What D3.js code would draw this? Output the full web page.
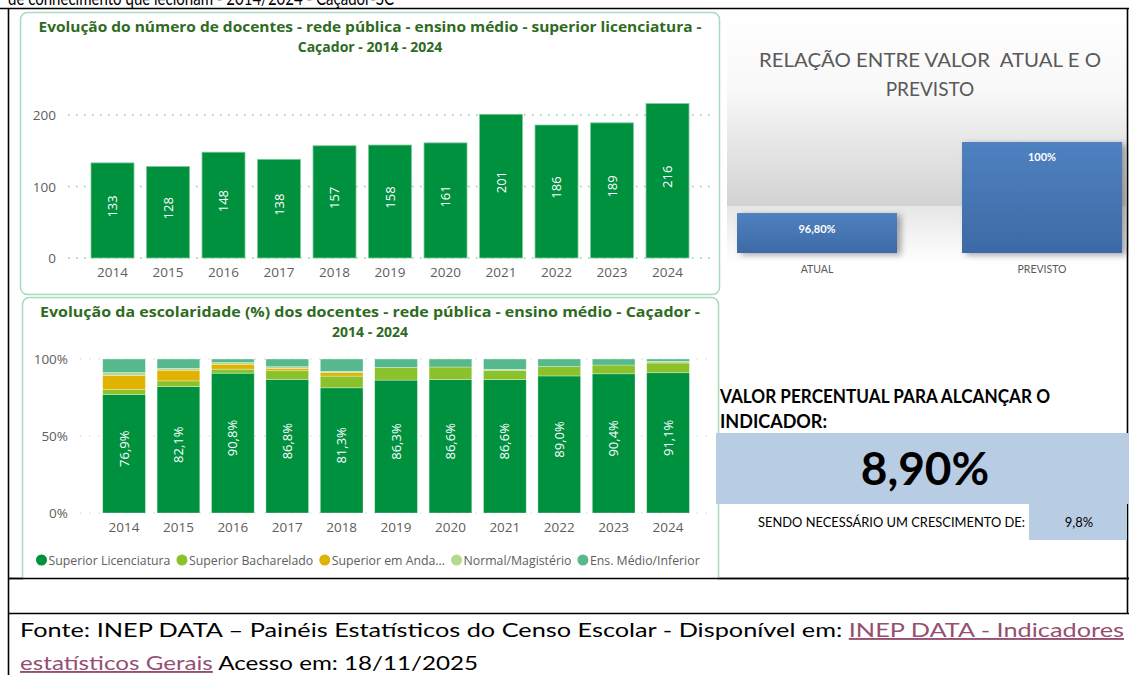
<!DOCTYPE html>
<html lang="pt-BR">
<head>
<meta charset="utf-8">
<script src="https://cdn.jsdelivr.net/npm/d3@7/dist/d3.min.js"></script>
<style>
  html, body { margin: 0; padding: 0; background: #fff; }
  svg { display: block; }
  .pre { white-space: pre; }
</style>
</head>
<body>
<div id="chart"></div>
<script>
// ---- Dados ----
const anos = ["2014","2015","2016","2017","2018","2019","2020","2021","2022","2023","2024"];
const docentes = [133,128,148,138,157,158,161,201,186,189,216];

// Escolaridade (%) por ano
const supLicenciatura = [76.9,82.1,90.8,86.8,81.3,86.3,86.6,86.6,89.0,90.4,91.1];
const supBacharelado  = [3.2,3.7,2.6,5.6,7.6,8.3,8.2,6.1,6.1,5.7,6.3];
const supAndamento    = [9.3,6.9,3.2,1.5,2.2,0,0,0,0,0,0];
const normalMagist    = [1.8,1.2,1.1,1.1,0.9,0,0,0.6,0,0,1.1];
const ensMedioInf     = [8.8,6.1,2.3,5.0,8.0,5.4,5.2,6.7,4.9,3.9,1.5];

const seriesNomes = ["Superior Licenciatura","Superior Bacharelado","Superior em Anda...","Normal/Magistério","Ens. Médio/Inferior"];
const seriesCores = ["#00913f","#8bc22b","#dfb300","#b6d88e","#55b98d"];

const ticksDocentes = [0,100,200];
const ticksPct = [0,50,100];

// Relação atual x previsto
const categoriasRel = ["ATUAL","PREVISTO"];
const valoresRel = [96.8,100];
const rotulosRel = ["96,80%","100%"];

const valorIndicador = "8,90%";
const crescimento = "9,8%";

// ---- Estrutura ----
const W = 1129, H = 675;
const svg = d3.select("#chart").append("svg").attr("width", W).attr("height", H);
svg.append("rect").attr("width", W).attr("height", H).attr("fill", "#fff");
const defs = svg.append("defs");

const fPBI = "'Open Sans', 'Noto Sans', sans-serif";
const fDoc = "Lato, 'Open Sans', sans-serif";

function fit(sel, width) {
  const n = sel.node();
  const w = n.getComputedTextLength();
  if (Math.abs(w - width) > 1) sel.attr("textLength", width).attr("lengthAdjust", "spacingAndGlyphs");
  return sel;
}

// Linha do texto anterior (cortada pela borda superior)
fit(svg.append("text").attr("x", 8).attr("y", 5).attr("font-family", fDoc).attr("font-size", 19)
  .attr("fill", "#000").text("de conhecimento que lecionam - 2014/2024 - Caçador-SC"), 386);

// Bordas da tabela
const lines = [
  [0, 8.5, W, 8.5], [8.5, 8.5, 8.5, H], [1127.5, 8.5, 1127.5, 614],
  [8.5, 578.5, W, 578.5], [8.5, 613.5, W, 613.5]
];
svg.selectAll("line.tab").data(lines).join("line").attr("class", "tab")
  .attr("x1", d => d[0]).attr("y1", d => d[1]).attr("x2", d => d[2]).attr("y2", d => d[3])
  .attr("stroke", "#000").attr("stroke-width", 1.6);

// Painéis
svg.append("rect").attr("x", 20.5).attr("y", 12.5).attr("width", 699).attr("height", 282)
  .attr("rx", 7).attr("fill", "#fff").attr("stroke", "#a8dbbd").attr("stroke-width", 1.5);
svg.append("rect").attr("x", 22.5).attr("y", 297.5).attr("width", 696).attr("height", 290)
  .attr("rx", 7).attr("fill", "#fff").attr("stroke", "#a8dbbd").attr("stroke-width", 1.5);
// linha da tabela por cima do painel inferior
svg.append("line").attr("x1", 8.5).attr("x2", W).attr("y1", 578.5).attr("y2", 578.5)
  .attr("stroke", "#000").attr("stroke-width", 1.6);
svg.append("rect").attr("x", 10).attr("y", 580).attr("width", 1116).attr("height", 32).attr("fill", "#fff");

// ---- Gráfico 1: número de docentes ----
const tituloCor = "#2e6b22";
function titulo(l1, l2, y, w1) {
  fit(svg.append("text").attr("x", 370).attr("y", y).attr("text-anchor", "middle")
    .attr("font-family", fPBI).attr("font-weight", 700).attr("font-size", 14)
    .attr("fill", tituloCor).text(l1), w1);
  svg.append("text").attr("x", 370).attr("y", y + 20).attr("text-anchor", "middle")
    .attr("font-family", fPBI).attr("font-weight", 700).attr("font-size", 14)
    .attr("fill", tituloCor).text(l2);
}
titulo("Evolução do número de docentes - rede pública - ensino médio - superior licenciatura -",
       "Caçador - 2014 - 2024", 32, 663);

const x1 = d3.scaleBand().domain(anos).range([84.76, 695.26]).paddingInner(0.225).paddingOuter(0.1125);
const y1 = d3.scaleLinear().domain([0, 200]).range([258, 115]);

const g1 = svg.append("g");
g1.selectAll("line.grid").data(ticksDocentes).join("line").attr("class", "grid")
  .attr("x1", 68).attr("x2", 712).attr("y1", d => y1(d)).attr("y2", d => y1(d))
  .attr("stroke", "#8ccfa5").attr("stroke-width", 1.5).attr("stroke-dasharray", "1.5,6.5");
g1.selectAll("text.yt").data(ticksDocentes).join("text").attr("class", "yt")
  .attr("x", 56).attr("y", d => y1(d) + 5).attr("text-anchor", "end")
  .attr("font-family", fPBI).attr("font-size", 13.5).attr("fill", "#605e5c").text(d => d);
g1.selectAll("rect.bar").data(docentes).join("rect").attr("class", "bar")
  .attr("x", (d, i) => x1(anos[i])).attr("width", x1.bandwidth())
  .attr("y", d => y1(d)).attr("height", d => y1(0) - y1(d))
  .attr("fill", "#00913f").attr("stroke", "#7fcb9c").attr("stroke-width", 0.8);
g1.selectAll("text.lbl").data(docentes).join("text").attr("class", "lbl")
  .attr("transform", (d, i) => `translate(${x1(anos[i]) + x1.bandwidth() / 2 + 4.5},${(y1(d) + y1(0)) / 2 - 4}) rotate(-90)`)
  .attr("text-anchor", "middle").attr("font-family", fPBI).attr("font-size", 13)
  .attr("fill", "#fff").text(d => d);
g1.selectAll("text.xt").data(anos).join("text").attr("class", "xt")
  .attr("x", d => x1(d) + x1.bandwidth() / 2).attr("y", 277).attr("text-anchor", "middle")
  .attr("font-family", fPBI).attr("font-size", 13.5).attr("fill", "#605e5c").text(d => d);

// ---- Gráfico 2: escolaridade (%) ----
titulo("Evolução da escolaridade (%) dos docentes - rede pública - ensino médio - Caçador -",
       "2014 - 2024", 317, 660);

const x2 = d3.scaleBand().domain(anos).range([96.85, 695.25]).paddingInner(0.215).paddingOuter(0.1075);
const y2 = d3.scaleLinear().domain([0, 100]).range([513, 359]);

const linhas = anos.map((a, i) => ({
  ano: a, s0: supLicenciatura[i], s1: supBacharelado[i], s2: supAndamento[i], s3: normalMagist[i], s4: ensMedioInf[i]
}));
const chaves = ["s0","s1","s2","s3","s4"];
const pilha = d3.stack().keys(chaves)(linhas);

const g2 = svg.append("g");
g2.selectAll("line.grid").data(ticksPct).join("line").attr("class", "grid")
  .attr("x1", 80).attr("x2", 710).attr("y1", d => y2(d)).attr("y2", d => y2(d))
  .attr("stroke", "#c9c9c9").attr("stroke-width", 1.2).attr("stroke-dasharray", "1.2,8");
g2.selectAll("text.yt").data(ticksPct).join("text").attr("class", "yt")
  .attr("x", 68).attr("y", d => y2(d) + 5).attr("text-anchor", "end")
  .attr("font-family", fPBI).attr("font-size", 13.5).attr("fill", "#605e5c").text(d => d + "%");
g2.selectAll("g.serie").data(pilha).join("g").attr("class", "serie")
  .attr("fill", (d, i) => seriesCores[i])
  .selectAll("rect").data(d => d.filter(p => p[1] - p[0] > 0)).join("rect")
  .attr("x", d => x2(d.data.ano)).attr("width", x2.bandwidth())
  .attr("y", d => y2(d[1])).attr("height", d => y2(d[0]) - y2(d[1]))
  .attr("stroke", "rgba(255,255,255,0.45)").attr("stroke-width", 0.7);
g2.selectAll("text.lbl").data(pilha[0]).join("text").attr("class", "lbl")
  .attr("transform", d => `translate(${x2(d.data.ano) + x2.bandwidth() / 2 + 4.5},${(y2(d[1]) + y2(d[0])) / 2 - 5}) rotate(-90)`)
  .attr("text-anchor", "middle").attr("font-family", fPBI).attr("font-size", 13)
  .attr("fill", "#fff").text(d => d3.format(".1f")(d.data.s0).replace(".", ",") + "%");
g2.selectAll("text.xt").data(anos).join("text").attr("class", "xt")
  .attr("x", d => x2(d) + x2.bandwidth() / 2).attr("y", 532).attr("text-anchor", "middle")
  .attr("font-family", fPBI).attr("font-size", 13.5).attr("fill", "#605e5c").text(d => d);

// Legenda
const leg = svg.append("g");
let cx = 36;
seriesNomes.forEach((nome, i) => {
  leg.append("circle").attr("cx", cx + 5.5).attr("cy", 560).attr("r", 5.5).attr("fill", seriesCores[i]);
  const t = leg.append("text").attr("x", cx + 12.5).attr("y", 564.5)
    .attr("font-family", fPBI).attr("font-size", 12.3).attr("fill", "#605e5c").text(nome);
  cx += 12.5 + t.node().getComputedTextLength() + 6;
});

// ---- Relação entre valor atual e previsto ----
const parede = defs.append("linearGradient").attr("id", "parede").attr("x1", 0).attr("y1", 0).attr("x2", 0).attr("y2", 1);
parede.append("stop").attr("offset", 0).attr("stop-color", "#ffffff");
parede.append("stop").attr("offset", 0.4).attr("stop-color", "#f8f8f8");
parede.append("stop").attr("offset", 1).attr("stop-color", "#d2d2d2");
const piso = defs.append("linearGradient").attr("id", "piso").attr("x1", 0).attr("y1", 0).attr("x2", 0).attr("y2", 1);
piso.append("stop").attr("offset", 0).attr("stop-color", "#e6e6e6");
piso.append("stop").attr("offset", 1).attr("stop-color", "#ffffff");
const barraAzul = defs.append("linearGradient").attr("id", "barraAzul").attr("x1", 0).attr("y1", 0).attr("x2", 0).attr("y2", 1);
barraAzul.append("stop").attr("offset", 0).attr("stop-color", "#4f81c0");
barraAzul.append("stop").attr("offset", 1).attr("stop-color", "#3d6aa6");
const sombra = defs.append("filter").attr("id", "sombra").attr("x", "-10%").attr("y", "-10%").attr("width", "130%").attr("height", "130%");
sombra.append("feDropShadow").attr("dx", 4).attr("dy", 2).attr("stdDeviation", 3)
  .attr("flood-color", "#000").attr("flood-opacity", 0.35);

svg.append("rect").attr("x", 727).attr("y", 14).attr("width", 399).attr("height", 192).attr("fill", "url(#parede)");
svg.append("rect").attr("x", 727).attr("y", 206).attr("width", 399).attr("height", 58).attr("fill", "url(#piso)");

const tr = svg.append("text").attr("text-anchor", "middle").attr("font-family", fDoc)
  .attr("font-size", 19).attr("fill", "#595959");
fit(tr.append("tspan").attr("class", "pre").attr("x", 930).attr("y", 67).text("RELAÇÃO ENTRE VALOR  ATUAL E O"), 342);
svg.append("text").attr("x", 930).attr("y", 96).attr("text-anchor", "middle").attr("font-family", fDoc)
  .attr("font-size", 19).attr("fill", "#595959").text("PREVISTO");

const x3 = d3.scaleBand().domain(categoriasRel).range([704.5, 1154.5]).paddingInner(0.289).paddingOuter(0.1445);
const y3 = d3.scaleLinear().domain([95, 100]).range([253, 142]);
svg.selectAll("rect.rel").data(valoresRel).join("rect").attr("class", "rel")
  .attr("x", (d, i) => x3(categoriasRel[i])).attr("width", x3.bandwidth())
  .attr("y", d => y3(d)).attr("height", d => y3(95) - y3(d))
  .attr("fill", "url(#barraAzul)").attr("filter", "url(#sombra)");
svg.selectAll("text.rel").data(valoresRel).join("text").attr("class", "rel")
  .attr("x", (d, i) => x3(categoriasRel[i]) + x3.bandwidth() / 2)
  .attr("y", (d, i) => i === 0 ? y3(d) + 20 : y3(d) + 19)
  .attr("text-anchor", "middle").attr("font-family", fDoc).attr("font-weight", 700)
  .attr("font-size", 11).attr("fill", "#fff").text((d, i) => rotulosRel[i]);
svg.selectAll("text.cat").data(categoriasRel).join("text").attr("class", "cat")
  .attr("x", d => x3(d) + x3.bandwidth() / 2).attr("y", 273).attr("text-anchor", "middle")
  .attr("font-family", fDoc).attr("font-size", 10.5).attr("fill", "#595959").text(d => d);

// ---- Indicador ----
fit(svg.append("text").attr("x", 720).attr("y", 403).attr("font-family", fDoc).attr("font-weight", 700)
  .attr("font-size", 18).attr("fill", "#000").text("VALOR PERCENTUAL PARA ALCANÇAR O"), 330);
svg.append("text").attr("x", 720).attr("y", 428).attr("font-family", fDoc).attr("font-weight", 700)
  .attr("font-size", 18).attr("fill", "#000").text("INDICADOR:");
svg.append("rect").attr("x", 716).attr("y", 433).attr("width", 413).attr("height", 71).attr("fill", "#b8cce4");
svg.append("text").attr("x", 925).attr("y", 485).attr("text-anchor", "middle").attr("font-family", fDoc)
  .attr("font-weight", 700).attr("font-size", 46).attr("fill", "#000").text(valorIndicador);
svg.append("rect").attr("x", 1029).attr("y", 504).attr("width", 98).attr("height", 36).attr("fill", "#b8cce4");
fit(svg.append("text").attr("x", 758).attr("y", 527).attr("font-family", fDoc).attr("font-size", 13)
  .attr("fill", "#000").text("SENDO NECESSÁRIO UM CRESCIMENTO DE:"), 267);
svg.append("text").attr("x", 1079).attr("y", 527).attr("text-anchor", "middle").attr("font-family", fDoc)
  .attr("font-size", 13).attr("fill", "#000").text(crescimento);

// ---- Fonte ----
const link = "#954f72";
const f1 = svg.append("text").attr("x", 20).attr("y", 637).attr("font-family", fDoc).attr("font-size", 19).attr("fill", "#000");
f1.append("tspan").text("Fonte: INEP DATA – Painéis Estatísticos do Censo Escolar - Disponível em: ");
f1.append("tspan").attr("fill", link).attr("text-decoration", "underline").text("INEP DATA - Indicadores");
fit(f1, 1104);
const f2 = svg.append("text").attr("x", 20).attr("y", 670).attr("font-family", fDoc).attr("font-size", 19).attr("fill", "#000");
f2.append("tspan").attr("fill", link).attr("text-decoration", "underline").text("estatísticos Gerais");
f2.append("tspan").text(" Acesso em: 18/11/2025");
fit(f2, 458);
</script>
</body>
</html>
